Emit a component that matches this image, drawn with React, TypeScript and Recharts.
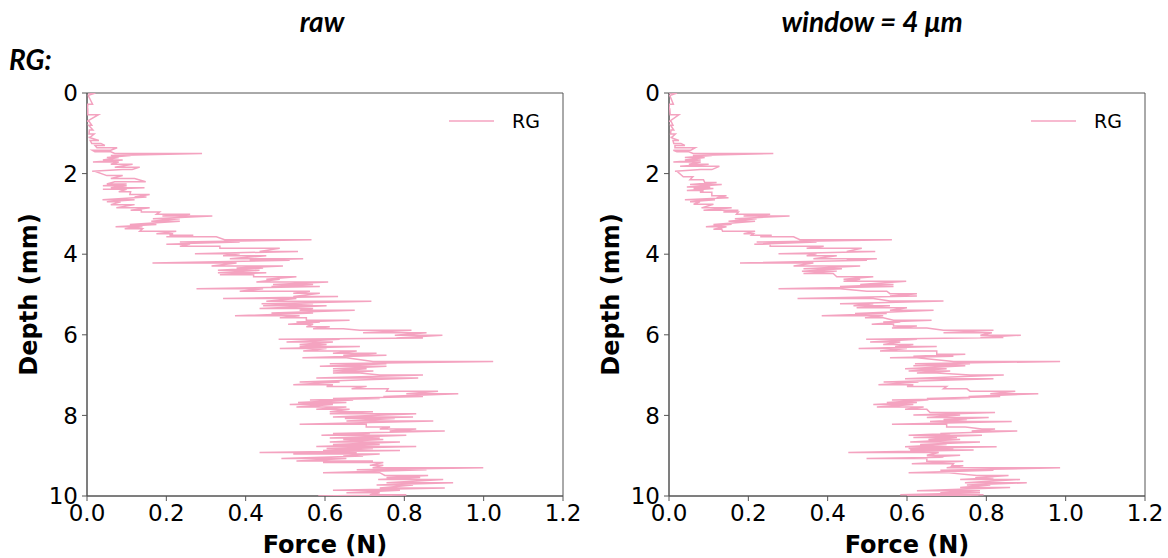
import React from "react"
import { ScatterChart, Scatter, XAxis, YAxis, ReferenceArea } from "recharts"

// rows: [depth (mm), force at stroke start (N), force at stroke end (N)]
const rawRows: [number, number, number][] = [
  [0.0, 0.003, 0.021], [0.06, 0.002, 0.003], [0.28, 0.014, 0.002], [0.4, 0.001, 0.002],
  [0.54, 0.002, 0.029], [0.7, 0.001, 0.005], [0.8, 0.012, 0.004], [0.92, 0.015, 0.006],
  [1.02, 0.005, 0.018], [1.1, 0.008, 0.004], [1.18, 0.03, 0.008], [1.25, 0.012, 0.035],
  [1.3, 0.045, 0.02], [1.36, 0.025, 0.076], [1.42, 0.06, 0.013], [1.46, 0.02, 0.06],
  [1.5, 0.07, 0.29], [1.55, 0.06, 0.11], [1.6, 0.05, 0.08], [1.66, 0.04, 0.09],
  [1.71, 0.015, 0.08], [1.77, 0.06, 0.115], [1.84, 0.07, 0.133], [1.9, 0.114, 0.09],
  [1.94, 0.013, 0.02], [2.05, 0.05, 0.09], [2.12, 0.06, 0.12], [2.2, 0.148, 0.07],
  [2.26, 0.05, 0.1], [2.3, 0.04, 0.1], [2.35, 0.06, 0.145], [2.39, 0.04, 0.1],
  [2.45, 0.08, 0.11], [2.52, 0.108, 0.158], [2.58, 0.12, 0.15], [2.65, 0.039, 0.12],
  [2.7, 0.05, 0.085], [2.77, 0.06, 0.12], [2.85, 0.074, 0.158], [2.91, 0.11, 0.137],
  [2.95, 0.137, 0.183], [3.01, 0.175, 0.26], [3.05, 0.19, 0.316], [3.12, 0.166, 0.234],
  [3.18, 0.162, 0.234], [3.26, 0.108, 0.175], [3.32, 0.072, 0.14], [3.37, 0.095, 0.14],
  [3.43, 0.133, 0.225], [3.49, 0.175, 0.217], [3.53, 0.208, 0.268], [3.57, 0.2, 0.326],
  [3.64, 0.347, 0.566], [3.7, 0.234, 0.385], [3.75, 0.2, 0.26], [3.8, 0.234, 0.335],
  [3.85, 0.335, 0.486], [3.93, 0.435, 0.532], [3.99, 0.272, 0.385], [4.04, 0.343, 0.452],
  [4.11, 0.36, 0.545], [4.15, 0.41, 0.511], [4.22, 0.165, 0.377], [4.29, 0.314, 0.494],
  [4.34, 0.377, 0.444], [4.4, 0.33, 0.435], [4.46, 0.33, 0.452], [4.51, 0.335, 0.42],
  [4.56, 0.42, 0.528], [4.62, 0.452, 0.486], [4.69, 0.427, 0.608], [4.75, 0.469, 0.57],
  [4.8, 0.465, 0.587], [4.86, 0.276, 0.444], [4.92, 0.385, 0.562], [4.97, 0.52, 0.587],
  [5.05, 0.52, 0.633], [5.1, 0.343, 0.528], [5.17, 0.452, 0.717], [5.23, 0.44, 0.57],
  [5.28, 0.444, 0.604], [5.35, 0.435, 0.57], [5.39, 0.536, 0.675], [5.46, 0.465, 0.57],
  [5.53, 0.373, 0.536], [5.58, 0.486, 0.553], [5.64, 0.553, 0.662], [5.68, 0.528, 0.587],
  [5.74, 0.507, 0.57], [5.8, 0.553, 0.612], [5.85, 0.57, 0.646], [5.89, 0.688, 0.818],
  [5.95, 0.696, 0.856], [6.01, 0.776, 0.896], [6.08, 0.78, 0.847], [6.11, 0.483, 0.637],
  [6.18, 0.503, 0.62], [6.24, 0.536, 0.604], [6.29, 0.536, 0.688], [6.34, 0.486, 0.604],
  [6.4, 0.545, 0.68], [6.46, 0.62, 0.73], [6.51, 0.646, 0.755], [6.57, 0.543, 0.654],
  [6.66, 0.721, 1.024], [6.72, 0.612, 0.755], [6.78, 0.587, 0.755], [6.84, 0.62, 0.705],
  [6.9, 0.62, 0.722], [6.95, 0.62, 0.688], [7.0, 0.738, 0.847], [7.07, 0.578, 0.835],
  [7.17, 0.536, 0.637], [7.24, 0.52, 0.62], [7.28, 0.604, 0.705], [7.34, 0.667, 0.759],
  [7.4, 0.755, 0.885], [7.46, 0.805, 0.936], [7.53, 0.747, 0.847], [7.58, 0.62, 0.738],
  [7.62, 0.562, 0.671], [7.68, 0.532, 0.654], [7.73, 0.511, 0.62], [7.79, 0.528, 0.654],
  [7.85, 0.578, 0.662], [7.91, 0.612, 0.721], [7.96, 0.612, 0.83], [8.04, 0.62, 0.822],
  [8.08, 0.65, 0.776], [8.14, 0.654, 0.873], [8.22, 0.536, 0.704], [8.29, 0.704, 0.764],
  [8.34, 0.738, 0.83], [8.39, 0.763, 0.902], [8.45, 0.62, 0.713], [8.49, 0.591, 0.805],
  [8.56, 0.612, 0.738], [8.6, 0.646, 0.747], [8.66, 0.612, 0.789], [8.72, 0.62, 0.738],
  [8.77, 0.578, 0.83], [8.82, 0.604, 0.721], [8.87, 0.595, 0.789], [8.92, 0.435, 0.68],
  [8.96, 0.52, 0.738], [9.01, 0.646, 0.696], [9.07, 0.49, 0.654], [9.13, 0.528, 0.721],
  [9.17, 0.595, 0.747], [9.24, 0.713, 0.747], [9.3, 0.72, 0.999], [9.35, 0.68, 0.856],
  [9.42, 0.595, 0.738], [9.49, 0.751, 0.86], [9.54, 0.755, 0.84], [9.59, 0.734, 0.898],
  [9.67, 0.755, 0.923], [9.73, 0.73, 0.822], [9.8, 0.738, 0.902], [9.86, 0.62, 0.789],
  [9.92, 0.654, 0.738], [9.97, 0.713, 0.805], [10.0, 0.583, 0.805],
]

const windowRows: [number, number, number][] = [
  [0.0, 0.0, 0.02], [0.06, 0.002, 0.002], [0.28, 0.011, 0.0], [0.4, 0.001, 0.002],
  [0.54, 0.003, 0.025], [0.7, 0.002, 0.005], [0.8, 0.01, 0.004], [0.92, 0.012, 0.005],
  [1.02, 0.004, 0.016], [1.1, 0.007, 0.004], [1.18, 0.025, 0.01], [1.25, 0.012, 0.03],
  [1.3, 0.04, 0.015], [1.36, 0.015, 0.066], [1.42, 0.055, 0.011], [1.46, 0.02, 0.05],
  [1.5, 0.061, 0.263], [1.55, 0.06, 0.108], [1.6, 0.04, 0.09], [1.66, 0.04, 0.08],
  [1.71, 0.011, 0.08], [1.77, 0.05, 0.1], [1.82, 0.028, 0.127], [1.9, 0.108, 0.08],
  [1.94, 0.015, 0.02], [2.08, 0.036, 0.06], [2.15, 0.053, 0.087], [2.22, 0.09, 0.12],
  [2.27, 0.053, 0.133], [2.33, 0.045, 0.104], [2.37, 0.062, 0.112], [2.42, 0.045, 0.087],
  [2.46, 0.078, 0.108], [2.55, 0.108, 0.145], [2.6, 0.12, 0.15], [2.65, 0.04, 0.116],
  [2.7, 0.053, 0.078], [2.76, 0.062, 0.112], [2.85, 0.082, 0.158], [2.91, 0.087, 0.175],
  [2.95, 0.137, 0.175], [3.01, 0.17, 0.255], [3.05, 0.188, 0.304], [3.12, 0.166, 0.221],
  [3.18, 0.15, 0.217], [3.26, 0.112, 0.158], [3.32, 0.093, 0.145], [3.38, 0.112, 0.133],
  [3.43, 0.135, 0.217], [3.49, 0.188, 0.213], [3.53, 0.208, 0.259], [3.57, 0.23, 0.314],
  [3.64, 0.33, 0.562], [3.7, 0.221, 0.372], [3.75, 0.215, 0.255], [3.8, 0.255, 0.39],
  [3.85, 0.347, 0.486], [3.93, 0.448, 0.52], [3.99, 0.276, 0.372], [4.04, 0.347, 0.423],
  [4.11, 0.364, 0.524], [4.15, 0.448, 0.499], [4.22, 0.179, 0.364], [4.29, 0.314, 0.482],
  [4.36, 0.339, 0.436], [4.42, 0.335, 0.423], [4.48, 0.339, 0.414], [4.56, 0.423, 0.515],
  [4.62, 0.44, 0.482], [4.67, 0.44, 0.598], [4.75, 0.482, 0.566], [4.8, 0.431, 0.566],
  [4.86, 0.276, 0.431], [4.92, 0.499, 0.549], [4.98, 0.557, 0.625], [5.04, 0.557, 0.625],
  [5.1, 0.324, 0.515], [5.16, 0.557, 0.692], [5.23, 0.431, 0.515], [5.28, 0.465, 0.557],
  [5.33, 0.473, 0.6], [5.39, 0.557, 0.667], [5.47, 0.469, 0.549], [5.53, 0.385, 0.54],
  [5.58, 0.494, 0.54], [5.64, 0.566, 0.662], [5.68, 0.54, 0.583], [5.74, 0.511, 0.566],
  [5.78, 0.566, 0.625], [5.83, 0.562, 0.65], [5.89, 0.692, 0.818], [5.95, 0.692, 0.814],
  [6.01, 0.785, 0.887], [6.07, 0.785, 0.843], [6.11, 0.497, 0.625], [6.18, 0.507, 0.583],
  [6.24, 0.54, 0.616], [6.29, 0.57, 0.675], [6.34, 0.478, 0.6], [6.4, 0.532, 0.675],
  [6.48, 0.675, 0.747], [6.53, 0.616, 0.717], [6.57, 0.557, 0.625], [6.66, 0.717, 0.986],
  [6.72, 0.62, 0.759], [6.77, 0.616, 0.747], [6.84, 0.595, 0.7], [6.9, 0.604, 0.709],
  [6.95, 0.625, 0.675], [7.0, 0.759, 0.844], [7.09, 0.595, 0.818], [7.17, 0.541, 0.629],
  [7.24, 0.528, 0.616], [7.28, 0.6, 0.7], [7.34, 0.692, 0.751], [7.4, 0.759, 0.873],
  [7.46, 0.81, 0.931], [7.53, 0.755, 0.835], [7.58, 0.65, 0.759], [7.62, 0.562, 0.654],
  [7.68, 0.549, 0.625], [7.73, 0.515, 0.616], [7.79, 0.524, 0.642], [7.85, 0.595, 0.65],
  [7.93, 0.658, 0.822], [7.99, 0.616, 0.734], [8.05, 0.65, 0.806], [8.1, 0.692, 0.751],
  [8.15, 0.658, 0.864], [8.22, 0.562, 0.7], [8.29, 0.7, 0.747], [8.34, 0.789, 0.822],
  [8.39, 0.763, 0.878], [8.45, 0.684, 0.709], [8.49, 0.604, 0.789], [8.55, 0.616, 0.726],
  [8.6, 0.654, 0.734], [8.66, 0.608, 0.784], [8.72, 0.633, 0.7], [8.78, 0.595, 0.826],
  [8.82, 0.604, 0.717], [8.86, 0.608, 0.768], [8.92, 0.452, 0.68], [8.99, 0.65, 0.734],
  [9.04, 0.65, 0.692], [9.07, 0.498, 0.65], [9.14, 0.65, 0.742], [9.2, 0.612, 0.717],
  [9.25, 0.713, 0.742], [9.3, 0.7, 0.986], [9.36, 0.684, 0.818], [9.42, 0.604, 0.7],
  [9.49, 0.776, 0.856], [9.55, 0.772, 0.818], [9.59, 0.734, 0.885], [9.67, 0.746, 0.902],
  [9.73, 0.751, 0.81], [9.79, 0.734, 0.86], [9.87, 0.625, 0.784], [9.92, 0.684, 0.784],
  [9.97, 0.583, 0.793], [10.0, 0.6, 0.78],
]

const forceTicks = [0, 0.2, 0.4, 0.6, 0.8, 1.0, 1.2]
const depthTicks = [0, 2, 4, 6, 8, 10]
const seriesName = "RG"

const PINK = "#f4a3c0"
const FONT = "'DejaVu Sans', sans-serif"
const TITLE_FONT = "Lato, 'Open Sans', sans-serif"

function toPoints(rows: [number, number, number][]) {
  const pts: { depth: number; force: number }[] = []
  rows.forEach(([d, a, b]) => {
    pts.push({ depth: d, force: a })
    pts.push({ depth: d, force: b })
  })
  return pts
}

// matplotlib-style legend in the upper right corner of the axes
function LegendBox({ left }: { left: number }) {
  return (
    <svg
      width={110}
      height={30}
      style={{ position: "absolute", left, top: 108 }}
    >
      <line x1={9} y1={13} x2={54} y2={13} stroke={PINK} strokeWidth={1.5} />
      <text x={72} y={20} fontFamily={FONT} fontSize={19} fill="#000">
        {seriesName}
      </text>
    </svg>
  )
}

function Panel({ rows, left }: { rows: [number, number, number][]; left: number }) {
  const data = toPoints(rows)
  return (
    <div style={{ position: "absolute", left, top: 0, width: 600, height: 558 }}>
      <ScatterChart
        width={600}
        height={558}
        margin={{ top: 93, right: 37, bottom: 0, left: 0 }}
      >
        <XAxis
          type="number"
          dataKey="force"
          domain={[0, 1.2]}
          ticks={forceTicks}
          tickFormatter={(v: number) => v.toFixed(1)}
          allowDataOverflow
          height={62}
          tickSize={5}
          tickMargin={4}
          stroke="#555"
          tick={{ fill: "#000", fontSize: 23, fontFamily: FONT }}
          label={{
            value: "Force (N)",
            position: "insideBottom",
            offset: 5,
            fill: "#000",
            fontSize: 24,
            fontWeight: "bold",
            fontFamily: FONT,
          }}
        />
        <YAxis
          type="number"
          dataKey="depth"
          domain={[0, 10]}
          ticks={depthTicks}
          reversed
          allowDataOverflow
          width={87}
          tickSize={5}
          tickMargin={4}
          stroke="#555"
          tick={{ fill: "#000", fontSize: 23, fontFamily: FONT }}
          label={{
            content: (props: any) => {
              const vb = props.viewBox
              const cx = vb.x + 37
              const cy = vb.y + vb.height / 2
              return (
                <text
                  x={cx}
                  y={cy}
                  transform={`rotate(-90, ${cx}, ${cy})`}
                  textAnchor="middle"
                  fontFamily={FONT}
                  fontSize={24}
                  fontWeight="bold"
                  fill="#000"
                >
                  Depth (mm)
                </text>
              )
            },
          }}
        />
        <ReferenceArea
          x1={0}
          x2={1.2}
          y1={0}
          y2={10}
          fill="none"
          stroke="#555"
          strokeWidth={1}
        />
        <Scatter
          name={seriesName}
          data={data}
          line={{ stroke: PINK, strokeWidth: 1.5 }}
          shape={() => <g />}
          isAnimationActive={false}
        />
      </ScatterChart>
      <LegendBox left={440} />
    </div>
  )
}

export default function App() {
  const title: React.CSSProperties = {
    position: "absolute",
    fontFamily: TITLE_FONT,
    fontStyle: "italic",
    fontWeight: "bold",
    fontSize: 28,
    lineHeight: "34px",
    color: "#000",
    whiteSpace: "nowrap",
    transform: "translateX(-50%)",
  }
  return (
    <div
      style={{
        position: "absolute",
        left: 0,
        top: 0,
        width: 1168,
        height: 558,
        background: "#fff",
        overflow: "hidden",
      }}
    >
      <Panel rows={rawRows} left={0} />
      <Panel rows={windowRows} left={582} />
      <div style={{ ...title, left: 322, top: 4 }}>raw</div>
      <div style={{ ...title, left: 872, top: 4 }}>window = 4 μm</div>
      <div style={{ ...title, left: 9, top: 42, transform: "none" }}>RG:</div>
    </div>
  )
}
